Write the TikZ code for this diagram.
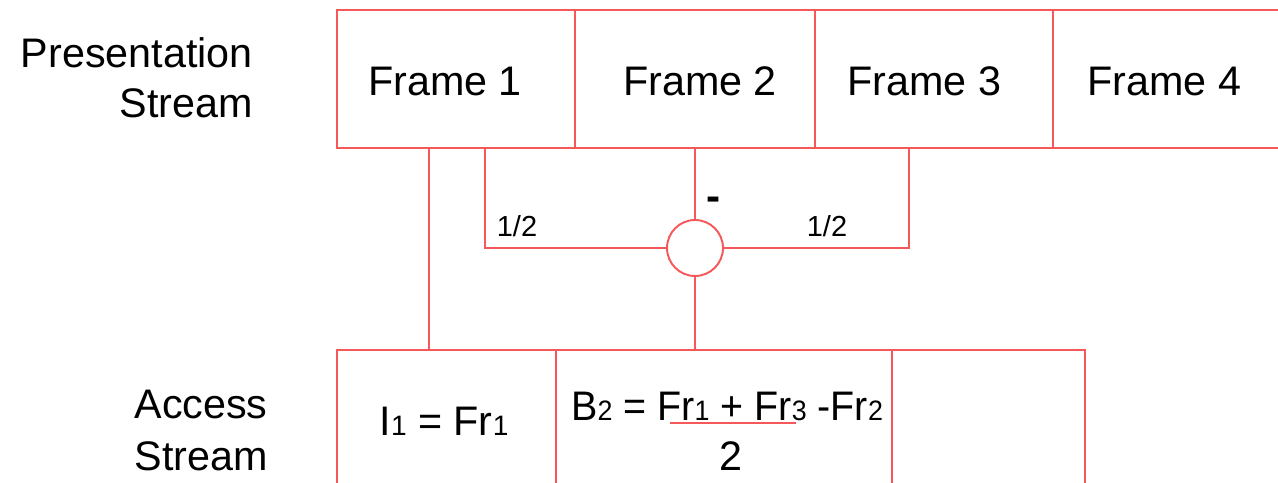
\documentclass[tikz,border=0pt]{standalone}
\usepackage{fontspec}
\setmainfont{Liberation Sans}
\usepackage{xcolor}
\usetikzlibrary{positioning,calc}
\definecolor{lnred}{RGB}{245,88,88}
\newcommand{\sbx}[1]{{\fontsize{16}{16}\selectfont #1}}

\begin{document}
\begin{tikzpicture}[x=0.02cm,y=-0.02cm,
    font=\fontsize{23.5}{28}\selectfont,
    cell/.style={draw=lnred,line width=1.1pt,inner sep=0pt},
    wire/.style={draw=lnred,line width=1.1pt},
    small/.style={font=\fontsize{16.5}{20}\selectfont,inner sep=0pt}]
    \useasboundingbox (0,0) rectangle (1278,483);
    % presentation stream
    \node[cell,minimum width=4.76cm,minimum height=2.76cm] (fr1) at (456,79) {};
    \node[cell,minimum width=4.8cm,minimum height=2.76cm] (fr2) at (695,79) {};
    \node[cell,minimum width=4.76cm,minimum height=2.76cm] (fr3) at (934,79) {};
    \node[cell,minimum width=5.34cm,minimum height=2.76cm] (fr4) at (1186.5,79) {};
    \node[inner sep=0pt,anchor=base] (t1) at (445,96) {Frame 1};
    \node[inner sep=0pt,anchor=base] (t2) at (700,96) {Frame 2};
    \node[inner sep=0pt,anchor=base] (t3) at (924.5,96) {Frame 3};
    \node[inner sep=0pt,anchor=base] (t4) at (1164.5,96) {Frame 4};
    \node[inner sep=0pt,anchor=base east] (pres1) at (253,68) {Presentation};
    \node[inner sep=0pt,anchor=base east] (pres2) at (253,117) {Stream};
    % access stream
    \node[cell,minimum width=4.38cm,minimum height=3.4cm] (acc1) at (446.5,435) {};
    \node[cell,minimum width=6.72cm,minimum height=3.4cm] (acc2) at (724,435) {};
    \node[cell,minimum width=3.86cm,minimum height=3.4cm] (acc3) at (988.5,435) {};
    \node[inner sep=0pt,anchor=base east] (acs1) at (268,418) {Access};
    \node[inner sep=0pt,anchor=base east] (acs2) at (268,470) {Stream};
    \node[inner sep=0pt,anchor=base] (i1) at (444,435) {I\sbx{1} = Fr\sbx{1}};
    \node[inner sep=0pt,anchor=base west] (b2) at (571,420)
      {\scalebox{0.955}[1]{B\sbx{2} = Fr\sbx{1} + Fr\sbx{3} -Fr\sbx{2}}};
    \node[inner sep=0pt,anchor=base] (den) at (731,470) {2};
    \coordinate (barL) at (670,423);
    \coordinate (barR) at (796,423);
    \draw[wire,line width=0.8pt] (barL) -- (barR);
    % adder
    \node[circle,draw=lnred,line width=1.1pt,fill=white,minimum size=1.12cm,inner sep=0pt] (sum) at (695,248) {};
    \coordinate (tapA) at (429,148);
    \coordinate (tapB) at (485,148);
    \coordinate (tapC) at (909,148);
    \draw[wire] (tapA) -- (tapA |- acc1.north);
    \draw[wire] (tapB) |- (sum.west);
    \draw[wire] (tapC) |- (sum.east);
    \draw[wire] (fr2.south) -- (sum.north);
    \draw[wire] (sum.south) -- (sum.south |- acc2.north);
    \node[small] (h1) at (517,226) {1/2};
    \node[small] (h2) at (827,226) {1/2};
    \node[small,font=\fontsize{24}{24}\selectfont\bfseries] (neg) at (714,204) {-};
  \end{tikzpicture}
\end{document}
